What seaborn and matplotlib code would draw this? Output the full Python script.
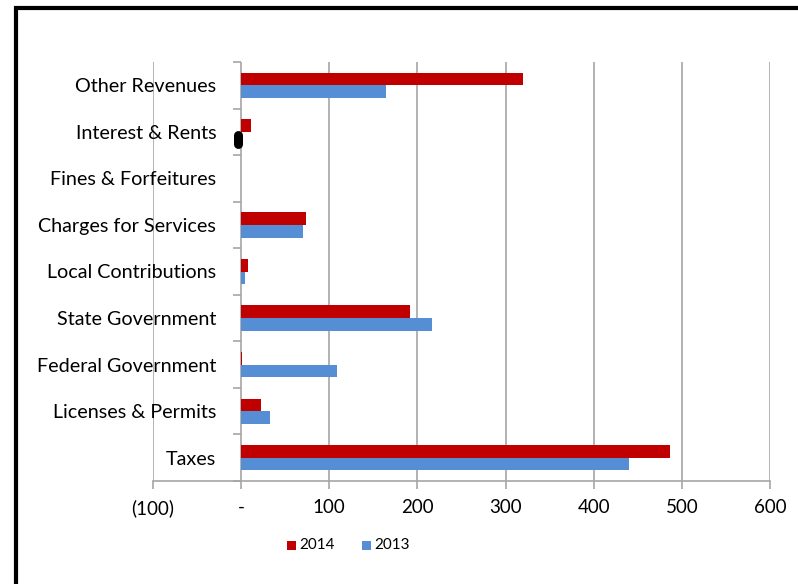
import matplotlib
matplotlib.use("Agg")
import matplotlib.pyplot as plt
from matplotlib.patches import Rectangle
from matplotlib.ticker import FixedLocator
import seaborn as sns
import pandas as pd

# Revenue sources, listed top to bottom
categories = [
    "Other Revenues", "Interest & Rents", "Fines & Forfeitures",
    "Charges for Services", "Local Contributions", "State Government",
    "Federal Government", "Licenses & Permits", "Taxes",
]
values_2014 = [320, 11, 0, 74, 8, 192, 0.5, 23, 486]
values_2013 = [164, -3, 0, 70, 4, 216, 109, 33, 440]
years = ["2014", "2013"]
x_ticks = [-100, 0, 100, 200, 300, 400, 500, 600]
x_tick_labels = ["(100)", "-", "100", "200", "300", "400", "500", "600"]

df = pd.DataFrame({
    "Source": categories * 2,
    "Amount": values_2014 + values_2013,
    "Year": [years[0]] * len(categories) + [years[1]] * len(categories),
})

sns.set_theme(style="white")
plt.rcParams["font.family"] = ["Lato", "DejaVu Sans"]

W, H = 798, 584
fig = plt.figure(figsize=(W / 100, H / 100), dpi=100)
ax = fig.add_axes([153 / W, 1 - 481 / H, (770 - 153) / W, (481 - 62) / H])

palette = {"2014": "#C00000", "2013": "#558ED5"}
sns.barplot(data=df, y="Source", x="Amount", hue="Year", order=categories,
            hue_order=years, palette=palette, orient="h", width=0.54,
            saturation=1, ax=ax, legend=False, edgecolor="none")

# highlight marker on the small negative interest value
ax.plot([-3, -3], [1.06, 1.26], color="black", lw=6.5,
        solid_capstyle="round", zorder=5)

ax.set_xlim(-100, 600)
ax.set_ylim(len(categories) - 0.5, -0.5)
ax.set_xlabel("")
ax.set_ylabel("")

grid_c = "#A6A6A6"
for v in x_ticks:
    if v != 0:
        ax.axvline(v, color=grid_c, lw=1.2, zorder=0)
ax.axvline(0, color=grid_c, lw=1.2, zorder=0.5)

for s in ["top", "right", "left"]:
    ax.spines[s].set_visible(False)
ax.spines["bottom"].set_color(grid_c)
ax.spines["bottom"].set_linewidth(1.2)

ax.set_xticks(x_ticks)
ax.set_xticklabels(x_tick_labels, fontsize=13.5, color="#000000")
ax.tick_params(axis="x", direction="out", length=6, width=1.2,
               color=grid_c, pad=7, bottom=True)

# category labels sit left of the zero line; boundary ticks on the zero line
ax.spines["left"].set_position(("data", 0))
ax.set_yticks(range(len(categories)))
ax.set_yticklabels(categories, fontsize=14.2, color="#000000")
ax.tick_params(axis="y", which="major", length=0, pad=18)
ax.yaxis.set_minor_locator(FixedLocator([i - 0.5 for i in range(len(categories) + 1)]))
ax.tick_params(axis="y", which="minor", length=6, width=1.2, color=grid_c,
               left=True, direction="out")

# legend
for xp, lab in [(287, "2014"), (362, "2013")]:
    fig.patches.append(Rectangle((xp / W, 1 - 550 / H), 9 / W, 9 / H,
                                 transform=fig.transFigure,
                                 facecolor=palette[lab], edgecolor="none"))
    fig.text((xp + 12) / W, 1 - 545 / H, lab, fontsize=11,
             va="center", ha="left", color="#000000")

# chart border
fig.patches.append(Rectangle((16 / W, -0.05), (W + 20) / W, 1 - 8 / H + 0.05,
                             transform=fig.transFigure, fill=False,
                             edgecolor="black", lw=3))

fig.savefig("out.png", dpi=100)
